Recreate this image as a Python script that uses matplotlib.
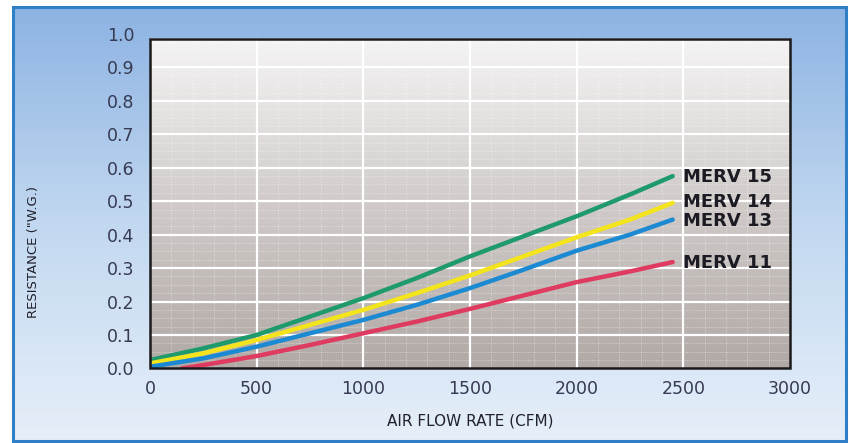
import matplotlib.pyplot as plt
import numpy as np
from matplotlib.colors import LinearSegmentedColormap
from matplotlib.patches import Rectangle

# data
airflow = [0, 250, 500, 750, 1000, 1250, 1500, 1750, 2000, 2250, 2450]
merv15 = [0.025, 0.06, 0.10, 0.155, 0.21, 0.27, 0.335, 0.395, 0.455, 0.52, 0.575]
merv14 = [0.015, 0.045, 0.085, 0.13, 0.175, 0.225, 0.278, 0.335, 0.392, 0.445, 0.495]
merv13 = [0.005, 0.03, 0.065, 0.105, 0.145, 0.19, 0.24, 0.295, 0.352, 0.40, 0.445]
airflow11 = [150, 250, 500, 750, 1000, 1250, 1500, 1750, 2000, 2250, 2450]
merv11 = [0.0, 0.01, 0.037, 0.07, 0.105, 0.14, 0.178, 0.218, 0.258, 0.29, 0.318]

series = [
    ('MERV 15', airflow, merv15, '#1f9a6c', 0.572),
    ('MERV 14', airflow, merv14, '#f4e41c', 0.498),
    ('MERV 13', airflow, merv13, '#1b8ad2', 0.44),
    ('MERV 11', airflow11, merv11, '#df3a5f', 0.314),
]

xticks = [0, 500, 1000, 1500, 2000, 2500, 3000]
yticks = [0.0, 0.1, 0.2, 0.3, 0.4, 0.5, 0.6, 0.7, 0.8, 0.9, 1.0]
plot_top = 0.985

W, H = 849, 443
fig = plt.figure(figsize=(W / 100, H / 100), dpi=100)
fig.patch.set_facecolor('white')

# blue gradient frame behind everything
bg = fig.add_axes([0, 0, 1, 1], zorder=-5)
bg.set_xlim(0, W)
bg.set_ylim(H, 0)
bg.axis('off')
blue = LinearSegmentedColormap.from_list('blue', ['#8db3e3', '#c2d8f0', '#e6eff9'])
grad = np.linspace(0, 1, 256).reshape(-1, 1)
bg.imshow(grad, cmap=blue, extent=[13, 846, 441, 7], aspect='auto', zorder=0)
bg.add_patch(Rectangle((13, 7), 833, 434, fill=False, ec='#2f7fc6', lw=2.2, zorder=1))

ax = fig.add_axes([150 / W, (H - 368.4) / H, 640 / W, 334.4 / H])
ax.set_xlim(0, 3000)
ax.set_ylim(0, 1.0)
ax.patch.set_alpha(0)
for s in ax.spines.values():
    s.set_visible(False)

# grey gradient plot area
grey = LinearSegmentedColormap.from_list('grey', ['#b1a9a6', '#d0cbc9', '#f5f4f4'])
ax.imshow(np.linspace(0, 1, 256).reshape(-1, 1), cmap=grey, origin='lower',
          extent=[0, 3000, 0, plot_top], aspect='auto', zorder=0)

# faint texture + white grid
for xv in np.arange(100, 3000, 100):
    ax.plot([xv, xv], [0, plot_top], color='white', lw=0.6, ls=':', alpha=0.55, zorder=1)
for yv in np.arange(0.025, plot_top, 0.025):
    ax.plot([0, 3000], [yv, yv], color='white', lw=0.6, ls=':', alpha=0.55, zorder=1)
for xv in xticks[1:-1]:
    ax.plot([xv, xv], [0, plot_top], color='white', lw=1.6, zorder=2)
for yv in yticks[1:-1]:
    ax.plot([0, 3000], [yv, yv], color='white', lw=1.6, zorder=2)

ax.add_patch(Rectangle((0, 0), 3000, plot_top, fill=False, ec='#1a1a1a', lw=1.8,
                       zorder=6, clip_on=False))

for name, xs, ys, col, ly in series:
    ax.plot(xs, ys, color=col, lw=3.2, solid_capstyle='round', zorder=4)
    ax.text(2498, ly, name, fontsize=13, fontweight='bold', color='#1c1a22',
            va='center', ha='left', zorder=7)

ax.set_xticks(xticks)
ax.set_yticks(yticks)
ax.set_xticklabels([str(v) for v in xticks])
ax.set_yticklabels(['%.1f' % v for v in yticks])
ax.tick_params(axis='both', length=0, labelsize=12.5, colors='#363a52')
ax.tick_params(axis='y', pad=11)
ax.tick_params(axis='x', pad=8)

fig.text(470 / W, 1 - 421 / H, 'AIR FLOW RATE (CFM)', fontsize=11, color='#22222e',
         ha='center', va='center')
fig.text(34 / W, 1 - 252 / H, 'RESISTANCE ("W.G.)', fontsize=9.5, color='#22222e',
         ha='center', va='center', rotation=90)

fig.savefig('out.png', dpi=100)
